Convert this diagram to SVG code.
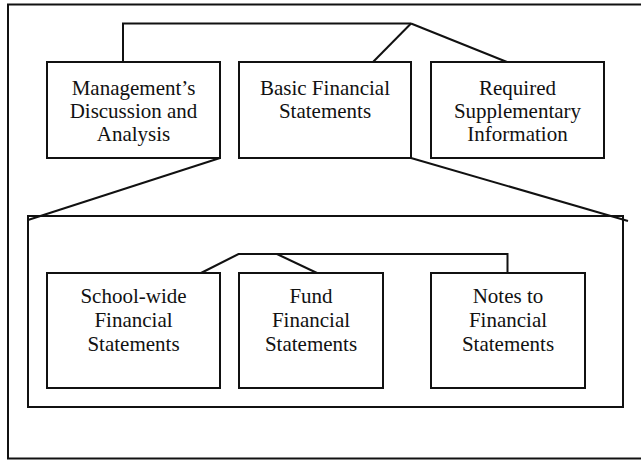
<svg xmlns="http://www.w3.org/2000/svg" width="641" height="460" viewBox="0 0 641 460">
  <style>
    .frame { fill: none; stroke: #111; stroke-width: 2; }
    .box { fill: #fff; stroke: #111; stroke-width: 2; }
    .link { fill: none; stroke: #111; stroke-width: 2; }
    .label { font-family: 'Liberation Serif', 'Times New Roman', serif; font-size: 21px; fill: #111; text-anchor: middle; }
  </style>
  <rect width="641" height="460" fill="#fff"/>

  <!-- page frame, running off the right edge -->
  <rect class="frame" x="8" y="4.5" width="700" height="454"/>

  <!-- enclosure for the parts of the basic financial statements -->
  <g id="bfs-detail">
    <rect class="frame" x="28" y="216" width="595" height="191"/>
  </g>

  <g id="connectors">
    <!-- top bracket joining the three report sections -->
    <polyline class="link" points="123,62 123,23.5 411,23.5"/>
    <line class="link" x1="411" y1="23.5" x2="373" y2="62"/>
    <line class="link" x1="411" y1="23.5" x2="507" y2="62"/>
    <!-- expansion lines from Basic Financial Statements -->
    <line class="link" x1="220" y1="158" x2="28" y2="220"/>
    <line class="link" x1="411" y1="158" x2="628" y2="221"/>
    <!-- lower bracket joining the statement parts -->
    <polyline class="link" points="201,273 238.5,254 507.5,254 507.5,273"/>
    <line class="link" x1="277" y1="254" x2="317" y2="273"/>
  </g>

  <g id="mda">
    <rect class="box" x="47" y="62" width="173" height="96"/>
    <text class="label" x="133.5" y="95">Management’s</text>
    <text class="label" x="133.5" y="118">Discussion and</text>
    <text class="label" x="133.5" y="141">Analysis</text>
  </g>

  <g id="basic-fs">
    <rect class="box" x="239" y="62" width="172" height="96"/>
    <text class="label" x="325" y="95">Basic Financial</text>
    <text class="label" x="325" y="118">Statements</text>
  </g>

  <g id="rsi">
    <rect class="box" x="431" y="62" width="173" height="96"/>
    <text class="label" x="517.5" y="95">Required</text>
    <text class="label" x="517.5" y="118">Supplementary</text>
    <text class="label" x="517.5" y="141">Information</text>
  </g>

  <g id="school-wide">
    <rect class="box" x="47" y="273" width="173" height="115"/>
    <text class="label" x="133.5" y="303">School-wide</text>
    <text class="label" x="133.5" y="327">Financial</text>
    <text class="label" x="133.5" y="351">Statements</text>
  </g>

  <g id="fund">
    <rect class="box" x="239" y="273" width="144" height="115"/>
    <text class="label" x="311" y="303">Fund</text>
    <text class="label" x="311" y="327">Financial</text>
    <text class="label" x="311" y="351">Statements</text>
  </g>

  <g id="notes">
    <rect class="box" x="431" y="273" width="154" height="115"/>
    <text class="label" x="508" y="303">Notes to</text>
    <text class="label" x="508" y="327">Financial</text>
    <text class="label" x="508" y="351">Statements</text>
  </g>
</svg>
